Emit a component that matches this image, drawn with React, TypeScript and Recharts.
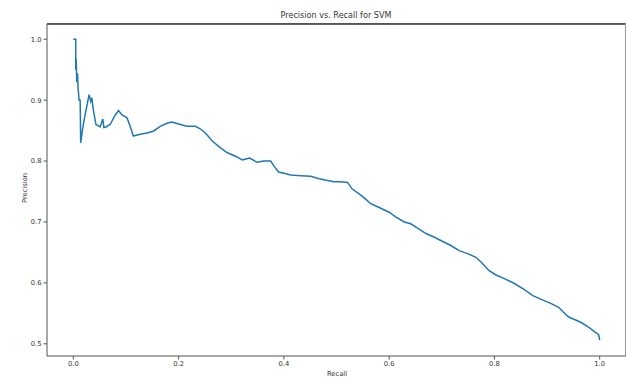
import { LineChart, Line, XAxis, YAxis, CartesianGrid } from 'recharts'

const recall = [
  0, 0.0046, 0.0046, 0.0055, 0.0065, 0.008, 0.009, 0.011, 0.013, 0.014,
  0.018, 0.022, 0.03, 0.033, 0.035, 0.038, 0.043, 0.051, 0.056, 0.058,
  0.062, 0.07, 0.08, 0.086, 0.092, 0.102, 0.108, 0.114, 0.127, 0.14,
  0.152, 0.165, 0.178, 0.187, 0.2, 0.216, 0.232, 0.241, 0.251, 0.264,
  0.279, 0.292, 0.308, 0.321, 0.335, 0.349, 0.362, 0.375, 0.381, 0.39,
  0.4, 0.413, 0.432, 0.451, 0.467, 0.483, 0.495, 0.508, 0.521, 0.53,
  0.543, 0.556, 0.565, 0.578, 0.59, 0.6, 0.613, 0.629, 0.641, 0.654,
  0.67, 0.686, 0.702, 0.718, 0.733, 0.749, 0.765, 0.775, 0.79, 0.803,
  0.819, 0.838, 0.857, 0.873, 0.889, 0.908, 0.922, 0.93, 0.941, 0.952,
  0.965, 0.978, 0.99, 0.998, 1.0,
]

const precision = [
  1.0, 1.0, 0.95, 0.967, 0.93, 0.944, 0.92, 0.9, 0.9, 0.83,
  0.855, 0.874, 0.909, 0.898, 0.904, 0.884, 0.86, 0.856, 0.869, 0.855,
  0.856, 0.86, 0.876, 0.883, 0.876, 0.871, 0.857, 0.841, 0.844, 0.846,
  0.849, 0.857, 0.862, 0.864, 0.861, 0.857, 0.857, 0.853, 0.846, 0.833,
  0.822, 0.814, 0.808, 0.802, 0.805, 0.798, 0.8, 0.8, 0.792, 0.782,
  0.78, 0.777, 0.776, 0.775, 0.771, 0.768, 0.766, 0.766, 0.765, 0.754,
  0.746, 0.737, 0.73, 0.725, 0.72, 0.716, 0.708, 0.7, 0.697, 0.69,
  0.681, 0.675, 0.668, 0.661, 0.653, 0.648, 0.642, 0.634, 0.62, 0.613,
  0.607, 0.599, 0.589, 0.579, 0.573, 0.566, 0.56, 0.553, 0.544, 0.54,
  0.535, 0.528, 0.52, 0.515, 0.506,
]

const xTicks = [0, 0.2, 0.4, 0.6, 0.8, 1.0]
const yTicks = [0.5, 0.6, 0.7, 0.8, 0.9, 1.0]
const X_DOMAIN: [number, number] = [-0.05, 1.05]
const Y_DOMAIN: [number, number] = [0.48, 1.025]

const data = recall.map((r, i) => ({ recall: r, precision: precision[i] }))

const FONT = 'DejaVu Sans, sans-serif'
const tickStyle = { fontSize: 6.75, fill: '#333', fontFamily: FONT }
const fmt = (v: number) => v.toFixed(1)

export default function App() {
  return (
    <div style={{ position: 'absolute', left: 0, top: 0, width: 627, height: 378, background: '#fff', overflow: 'hidden' }}>
      <LineChart
        width={627}
        height={378}
        data={data}
        margin={{ top: 24, right: 1, bottom: 0, left: 0 }}
      >
        {/* top and right spines of the axes box */}
        <CartesianGrid
          horizontalPoints={[24.5]}
          verticalPoints={[625.5]}
          stroke="#666"
          strokeDasharray=""
        />
        <XAxis
          dataKey="recall"
          type="number"
          domain={X_DOMAIN}
          ticks={xTicks}
          tickFormatter={fmt}
          height={22}
          tick={tickStyle}
          tickSize={3.5}
          tickMargin={2}
          stroke="#555"
          allowDataOverflow
        />
        <YAxis
          type="number"
          domain={Y_DOMAIN}
          ticks={yTicks}
          tickFormatter={fmt}
          width={47}
          tick={tickStyle}
          tickSize={3.5}
          tickMargin={2}
          stroke="#555"
          allowDataOverflow
        />
        <Line
          type="linear"
          dataKey="precision"
          stroke="#1f77b4"
          strokeWidth={1.5}
          dot={false}
          isAnimationActive={false}
        />
      </LineChart>
      <div style={{ position: 'absolute', left: 47, top: 23, width: 578, height: 332, borderTop: '1px solid #555', borderRight: '1px solid #999', pointerEvents: 'none', zIndex: 2 }} />
      <div style={{ position: 'absolute', left: 236, width: 200, top: 10, textAlign: 'center', fontFamily: FONT, fontSize: 8.1, color: '#333', lineHeight: '10px' }}>
        Precision vs. Recall for SVM
      </div>
      <div style={{ position: 'absolute', left: 287, width: 100, top: 370, textAlign: 'center', fontFamily: FONT, fontSize: 6.75, color: '#333', lineHeight: '9px' }}>
        Recall
      </div>
      <div style={{ position: 'absolute', left: 25, top: 188, width: 0, height: 0 }}>
        <div style={{ position: 'absolute', left: -50, top: -5, width: 100, textAlign: 'center', transform: 'rotate(-90deg)', fontFamily: FONT, fontSize: 6.75, color: '#333', lineHeight: '10px' }}>
          Precision
        </div>
      </div>
    </div>
  )
}
